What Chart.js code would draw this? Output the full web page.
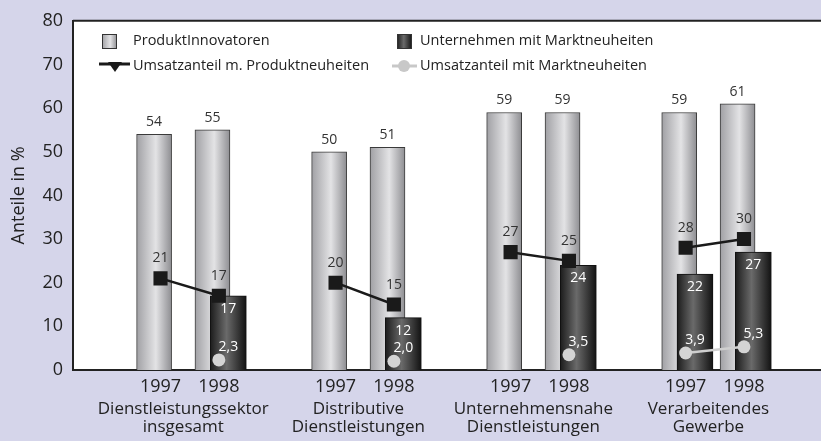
<!DOCTYPE html>
<html>
<head>
<meta charset="utf-8">
<script src="https://cdn.jsdelivr.net/npm/chart.js@4/dist/chart.umd.min.js"></script>
<style>
  html, body { margin: 0; padding: 0; background: #d5d5ea; }
  #rahmen { width: 821px; height: 441px; }
</style>
</head>
<body>
<div id="rahmen"><canvas id="grafikAnteile" width="821" height="441"></canvas></div>
<script>
// Daten
const jahre = ['1997', '1998'];
const gruppen = [
  ['Dienstleistungssektor', 'insgesamt'],
  ['Distributive', 'Dienstleistungen'],
  ['Unternehmensnahe', 'Dienstleistungen'],
  ['Verarbeitendes', 'Gewerbe']
];
const produktInnovatoren = [54, 55, 50, 51, 59, 59, 59, 61];
const unternehmenMarktneuheiten = [null, 17, null, 12, null, 24, 22, 27];
const umsatzProduktneuheiten = [21, 17, 20, 15, 27, 25, 28, 30];
const umsatzMarktneuheiten = [null, 2.3, null, 2.0, null, 3.5, 3.9, 5.3];
const yTicks = [0, 10, 20, 30, 40, 50, 60, 70, 80];

const schrift = '"Open Sans", "DejaVu Sans", sans-serif';
const textFarbe = '#222222';

// Position auf der x-Achse: zwei Jahre je Gruppe, eine Lücke zwischen Gruppen
const position = i => Math.floor(i / 2) * 3 + (i % 2);

function balkenPunkte(werte) {
  const punkte = [];
  werte.forEach((v, i) => {
    if (v !== null) punkte.push({ x: position(i), y: v });
  });
  return punkte;
}

function linienPunkte(werte) {
  const punkte = [];
  werte.forEach((v, i) => {
    punkte.push({ x: position(i), y: v });
    if (i % 2 === 1 && i < werte.length - 1) punkte.push({ x: position(i) + 1, y: null });
  });
  return punkte;
}

const stoppHell = [[0, '#a0a0a4'], [0.55, '#e3e3e5'], [1, '#8e8e92']];
const stoppDunkel = [[0, '#1c1c1c'], [0.45, '#6a6a6a'], [1, '#121212']];

function verlauf(c, links, breite, stopps) {
  const g = c.createLinearGradient(links, 0, links + breite, 0);
  stopps.forEach(s => g.addColorStop(s[0], s[1]));
  return g;
}

// Achsenbereiche (Pixel je Einheit ca. 58)
const xMain = { min: -1.5, max: 11.32 };
const xHell = { min: -1.39, max: 11.43 };
const xDunkel = { min: -1.663, max: 11.16 };

function ohneRand(s) {
  s.paddingLeft = 0;
  s.paddingRight = 0;
}

const hintergrund = {
  id: 'hintergrund',
  beforeDraw(chart) {
    const c = chart.ctx;
    const a = chart.chartArea;
    c.save();
    c.fillStyle = '#d5d5ea';
    c.fillRect(0, 0, chart.width, chart.height);
    c.fillStyle = '#ffffff';
    c.fillRect(a.left, a.top, a.right - a.left, a.bottom - a.top);
    c.strokeStyle = textFarbe;
    c.lineWidth = 2;
    c.beginPath();
    c.moveTo(a.left, a.top);
    c.lineTo(a.right, a.top);
    c.stroke();
    c.restore();
  },
  beforeDatasetsDraw(chart) {
    // Zylinder-Verlauf je Balken an der echten Balkenposition
    const c = chart.ctx;
    [[2, stoppDunkel], [3, stoppHell]].forEach(([idx, stopps]) => {
      chart.getDatasetMeta(idx).data.forEach(el => {
        el.options = Object.assign({}, el.options, {
          backgroundColor: verlauf(c, el.x - el.width / 2, el.width, stopps)
        });
      });
    });
  }
};

const beschriftung = {
  id: 'beschriftung',
  afterDatasetsDraw(chart) {
    const c = chart.ctx;
    c.save();
    c.textAlign = 'center';
    c.textBaseline = 'middle';
    c.font = '14px ' + schrift;

    chart.getDatasetMeta(3).data.forEach((el, i) => {
      c.fillStyle = '#333333';
      c.fillText(chart.data.datasets[3].data[i].y, el.x, el.y - 12);
    });
    chart.getDatasetMeta(2).data.forEach((el, i) => {
      c.fillStyle = '#ffffff';
      c.fillText(chart.data.datasets[2].data[i].y, el.x, el.y + 13);
    });
    chart.getDatasetMeta(0).data.forEach((el, i) => {
      const p = chart.data.datasets[0].data[i];
      if (p.y === null) return;
      c.fillStyle = '#333333';
      c.fillText(p.y, el.x, el.y - 20);
    });
    chart.getDatasetMeta(1).data.forEach((el, i) => {
      const p = chart.data.datasets[1].data[i];
      if (p.y === null) return;
      c.fillStyle = '#ffffff';
      const xText = chart.scales.xd.getPixelForValue(p.x);
      c.fillText(p.y.toFixed(1).replace('.', ','), xText, el.y - 13);
    });
    c.restore();
  }
};

const legende = {
  id: 'legende',
  afterDraw(chart) {
    const c = chart.ctx;
    const ds = chart.data.datasets;
    c.save();
    c.font = '14.5px ' + schrift;
    c.fillStyle = textFarbe;
    c.textBaseline = 'middle';
    c.textAlign = 'left';

    // Kästchen
    [[102, 41, stoppHell, ds[3].label, 133], [397, 41, stoppDunkel, ds[2].label, 420]].forEach(k => {
      c.fillStyle = verlauf(c, k[0], 15, k[2]);
      c.fillRect(k[0], k[1] - 7, 15, 15);
      c.strokeStyle = '#333333';
      c.lineWidth = 1;
      c.strokeRect(k[0] + 0.5, k[1] - 6.5, 14, 14);
      c.fillStyle = textFarbe;
      c.fillText(k[3], k[4], k[1]);
    });

    // Linie mit Dreieck
    c.strokeStyle = '#1a1a1a';
    c.lineWidth = 3;
    c.beginPath();
    c.moveTo(99, 64);
    c.lineTo(130, 64);
    c.stroke();
    c.fillStyle = '#1a1a1a';
    c.beginPath();
    c.moveTo(108, 62);
    c.lineTo(122, 62);
    c.lineTo(115, 72);
    c.closePath();
    c.fill();
    c.fillStyle = textFarbe;
    c.fillText(ds[0].label, 133, 66);

    // Linie mit Kreis
    c.strokeStyle = '#c8c8c8';
    c.lineWidth = 3;
    c.beginPath();
    c.moveTo(392, 66);
    c.lineTo(417, 66);
    c.stroke();
    c.fillStyle = '#c8c8c8';
    c.beginPath();
    c.arc(404, 66, 6, 0, Math.PI * 2);
    c.fill();
    c.fillStyle = textFarbe;
    c.fillText(ds[1].label, 420, 66);
    c.restore();
  }
};

const xBasis = {
  type: 'linear',
  position: 'bottom',
  offset: false,
  bounds: 'data'
};

new Chart(document.getElementById('grafikAnteile'), {
  type: 'bar',
  data: {
    datasets: [
      {
        type: 'line',
        label: 'Umsatzanteil m. Produktneuheiten',
        data: linienPunkte(umsatzProduktneuheiten),
        xAxisID: 'x',
        borderColor: '#1a1a1a',
        borderWidth: 2.5,
        backgroundColor: '#1a1a1a',
        pointStyle: 'rect',
        pointRadius: 10,
        pointBorderWidth: 0,
        spanGaps: false,
        order: 0
      },
      {
        type: 'line',
        label: 'Umsatzanteil mit Marktneuheiten',
        data: linienPunkte(umsatzMarktneuheiten),
        xAxisID: 'x',
        borderColor: '#cfcfcf',
        borderWidth: 2.5,
        backgroundColor: '#d4d4d4',
        pointStyle: 'circle',
        pointRadius: 6.5,
        pointBorderWidth: 0,
        spanGaps: false,
        order: 1
      },
      {
        label: 'Unternehmen mit Marktneuheiten',
        data: balkenPunkte(unternehmenMarktneuheiten),
        xAxisID: 'xd',
        grouped: false,
        backgroundColor: '#444444',
        borderColor: '#111111',
        borderWidth: 1,
        barThickness: 36,
        order: 2
      },
      {
        label: 'ProduktInnovatoren',
        data: balkenPunkte(produktInnovatoren),
        xAxisID: 'xl',
        grouped: false,
        backgroundColor: '#c8c8cc',
        borderColor: '#3a3a3a',
        borderWidth: 1,
        barThickness: 35,
        order: 3
      }
    ]
  },
  options: {
    responsive: false,
    animation: false,
    layout: { autoPadding: false, padding: { top: 20, left: 0, right: 0, bottom: 0 } },
    plugins: {
      legend: { display: false },
      tooltip: { enabled: false }
    },
    scales: {
      x: {
        ...xBasis,
        weight: 0,
        min: xMain.min,
        max: xMain.max,
        grid: { display: false, drawTicks: false, offset: false },
        border: { display: true, color: textFarbe, width: 2 },
        afterBuildTicks: s => { s.ticks = produktInnovatoren.map((v, i) => ({ value: position(i) })); },
        afterFit: s => { s.height = 28; ohneRand(s); },
        ticks: {
          autoSkip: false,
          maxRotation: 0,
          padding: 6,
          color: textFarbe,
          font: { family: schrift, size: 18 },
          callback: (v, i) => jahre[i % 2]
        }
      },
      xg: {
        ...xBasis,
        weight: 1,
        min: xHell.min,
        max: xHell.max,
        grid: { display: false, drawTicks: false, offset: false },
        border: { display: false },
        afterBuildTicks: s => { s.ticks = gruppen.map((g, k) => ({ value: 3 * k + 0.5 })); },
        afterFit: s => { s.height = 43; ohneRand(s); },
        ticks: {
          autoSkip: false,
          maxRotation: 0,
          padding: 2,
          color: textFarbe,
          font: { family: schrift, size: 17, lineHeight: 1.08 },
          callback: (v, i) => gruppen[i]
        }
      },
      xl: { ...xBasis, display: false, grid: { offset: false }, min: xHell.min, max: xHell.max },
      xd: { ...xBasis, display: false, grid: { offset: false }, min: xDunkel.min, max: xDunkel.max },
      y: {
        min: 0,
        max: 80,
        grid: { display: false, drawTicks: false },
        border: { display: true, color: textFarbe, width: 2 },
        afterBuildTicks: s => { s.ticks = yTicks.map(v => ({ value: v })); },
        afterFit: s => { s.width = 73; },
        title: {
          display: true,
          text: 'Anteile in %',
          color: textFarbe,
          font: { family: schrift, size: 18 },
          padding: { top: 8, bottom: 0 }
        },
        ticks: {
          padding: 10,
          color: textFarbe,
          font: { family: schrift, size: 18 }
        }
      }
    }
  },
  plugins: [hintergrund, beschriftung, legende]
});
</script>
</body>
</html>
